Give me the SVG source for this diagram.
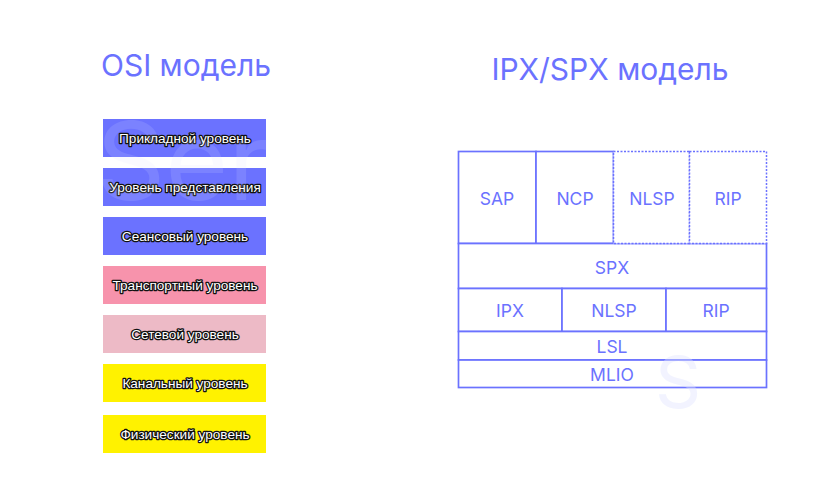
<svg xmlns="http://www.w3.org/2000/svg" width="820" height="500" viewBox="0 0 820 500">
<style>
.title{font-family:Inter,"Noto Sans",sans-serif;font-size:30px;fill:#6b72ff;text-anchor:middle}
.lbl{font-family:"Liberation Sans",Arial,sans-serif;font-size:13.6px;fill:#fff;stroke:#111;stroke-width:2.6px;paint-order:stroke;stroke-linejoin:round;text-anchor:middle}
.cell{fill:#fff;stroke:#6b72ff;stroke-width:1.7}
.dot{fill:#fff;stroke:#6b72ff;stroke-width:1.5;stroke-dasharray:2 1.5}
.ct{font-family:Inter,"Noto Sans",sans-serif;font-size:17.5px;fill:#6b72ff;text-anchor:middle}
.wm{font-family:Inter,"Noto Sans",sans-serif;fill:#dfe3ff}
</style>
<rect width="820" height="500" fill="#fff"/>
<text class="title" x="186" y="76">OSI модель</text>
<text class="title" x="610" y="80">IPX/SPX модель</text>
<g id="osi">
<g id="osi7"><rect x="103" y="119" width="163" height="38" fill="#6b72ff"/><text class="lbl" x="185" y="143">Прикладной уровень</text></g>
<g id="osi6"><rect x="103" y="168" width="163" height="38" fill="#6b72ff"/><text class="lbl" x="185" y="192">Уровень представления</text></g>
<g id="osi5"><rect x="103" y="217" width="163" height="38" fill="#6b72ff"/><text class="lbl" x="185" y="241">Сеансовый уровень</text></g>
<g id="osi4"><rect x="103" y="266" width="163" height="38" fill="#f793ac"/><text class="lbl" x="185" y="290">Транспортный уровень</text></g>
<g id="osi3"><rect x="103" y="315" width="163" height="38" fill="#edbac6"/><text class="lbl" x="185" y="339">Сетевой уровень</text></g>
<g id="osi2"><rect x="103" y="364" width="163" height="38" fill="#fff200"/><text class="lbl" x="185" y="388">Канальный уровень</text></g>
<g id="osi1"><rect x="103" y="415" width="163" height="38" fill="#fff200"/><text class="lbl" x="185" y="439">Физический уровень</text></g>
</g>
<g id="ipx">
<g id="sap"><rect class="cell" x="458.5" y="151.5" width="77.5" height="92"/><text class="ct" x="497" y="205">SAP</text></g>
<g id="ncp"><rect class="cell" x="536" y="151.5" width="77.5" height="92"/><text class="ct" x="575" y="205">NCP</text></g>
<g id="spx"><rect class="cell" x="458.5" y="243.5" width="308" height="45"/><text class="ct" x="612" y="274">SPX</text></g>
<g id="nlsp1"><rect class="dot" x="613.5" y="151.5" width="76" height="92"/><text class="ct" x="652" y="205">NLSP</text></g>
<g id="rip1"><rect class="dot" x="689.5" y="151.5" width="77" height="92"/><text class="ct" x="728" y="205">RIP</text></g>
<g id="ipxc"><rect class="cell" x="458.5" y="288.5" width="103.5" height="43"/><text class="ct" x="510" y="317">IPX</text></g>
<g id="nlsp2"><rect class="cell" x="562" y="288.5" width="104" height="43"/><text class="ct" x="614" y="317">NLSP</text></g>
<g id="rip2"><rect class="cell" x="666" y="288.5" width="100.5" height="43"/><text class="ct" x="716" y="317">RIP</text></g>
<g id="lsl"><rect class="cell" x="458.5" y="331.5" width="308" height="28.5"/><text class="ct" x="612" y="353">LSL</text></g>
<g id="mlio"><rect class="cell" x="458.5" y="360" width="308" height="27.5"/><text class="ct" x="612" y="381">MLIO</text></g>
</g>
<g id="connectors"></g>
<text class="wm" x="96" y="200" font-size="108" opacity="0.14">Ser</text>
<text class="wm" x="655" y="408" font-size="72" opacity="0.4">S</text>
</svg>
